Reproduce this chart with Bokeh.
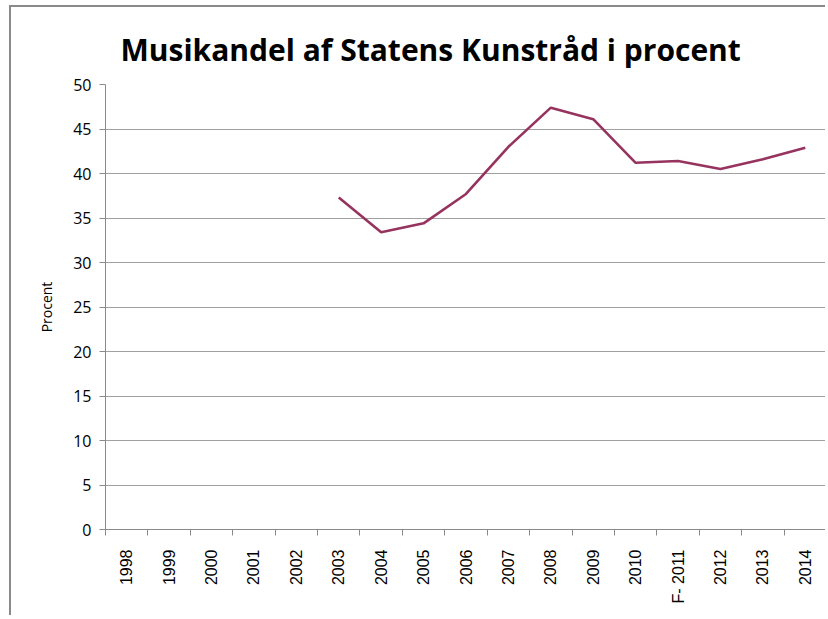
import math
from bokeh.plotting import figure
from bokeh.models import Range1d, FixedTicker, LinearAxis, Grid
from bokeh.embed import file_html
from bokeh.resources import INLINE

title_text = "Musikandel af Statens Kunstråd i procent"
y_label = "Procent"
years = ["1998", "1999", "2000", "2001", "2002", "2003", "2004", "2005", "2006",
         "2007", "2008", "2009", "2010", "F- 2011", "2012", "2013", "2014"]
series_years = ["2003", "2004", "2005", "2006", "2007", "2008", "2009", "2010",
                "F- 2011", "2012", "2013", "2014"]
series_values = [37.3, 33.4, 34.4, 37.7, 43.0, 47.4, 46.1, 41.2, 41.4, 40.5, 41.6, 42.9]
y_ticks = [0, 5, 10, 15, 20, 25, 30, 35, 40, 45, 50]

n = len(years)
centers = [i + 0.5 for i in range(n)]
xs = [years.index(c) + 0.5 for c in series_years]

p = figure(width=816, height=610, output_backend="svg", toolbar_location=None,
           x_range=Range1d(0, n), y_range=Range1d(0, 50),
           x_axis_type=None, y_axis_type=None,
           min_border_left=94, min_border_right=1, min_border_top=77, min_border_bottom=88)
p.margin = (5, 0, 0, 9)
p.styles = {"border-left": "2px solid #8a8a8a", "border-top": "2px solid #8a8a8a"}

p.title.text = title_text
p.title.text_font = "Open Sans"
p.title.text_font_style = "bold"
p.title.text_font_size = "30px"
p.title.align = "left"
p.title.offset = 15
p.title.standoff = 30
p.title.text_color = "#000000"

p.outline_line_color = None
p.background_fill_color = "white"
p.border_fill_color = "white"

# y axis
yax = LinearAxis(ticker=FixedTicker(ticks=y_ticks, minor_ticks=[]))
yax.axis_label = y_label
yax.axis_label_text_font = "Open Sans"
yax.axis_label_text_font_size = "14px"
yax.axis_label_text_font_style = "normal"
yax.axis_label_text_color = "#000000"
yax.axis_label_standoff = 14
yax.major_label_text_font = "Open Sans"
yax.major_label_text_font_size = "16px"
yax.major_label_text_color = "#000000"
yax.major_label_standoff = 8
yax.axis_line_color = "#8a8a8a"
yax.major_tick_line_color = "#8a8a8a"
yax.major_tick_out = 6
yax.major_tick_in = 0
yax.minor_tick_line_color = None
p.add_layout(yax, "left")

# x axis: labels at category centers, tick marks at category boundaries
xax = LinearAxis(ticker=FixedTicker(ticks=centers, minor_ticks=list(range(n + 1))))
xax.major_label_overrides = {c: y for c, y in zip(centers, years)}
xax.major_label_orientation = math.pi / 2
xax.major_label_text_font = "Liberation Sans"
xax.major_label_text_font_size = "16px"
xax.major_label_text_color = "#000000"
xax.major_label_standoff = 14
xax.axis_line_color = "#8a8a8a"
xax.major_tick_line_color = None
xax.major_tick_out = 0
xax.major_tick_in = 0
xax.minor_tick_line_color = "#8a8a8a"
xax.minor_tick_out = 6
xax.minor_tick_in = 0
p.add_layout(xax, "below")

grid = Grid(dimension=1, ticker=yax.ticker, grid_line_color="#a0a0a0", grid_line_width=1)
p.add_layout(grid)

p.line(xs, series_values, line_color="#96345F", line_width=2.6)

open("out.html", "w").write(file_html(p, INLINE))
